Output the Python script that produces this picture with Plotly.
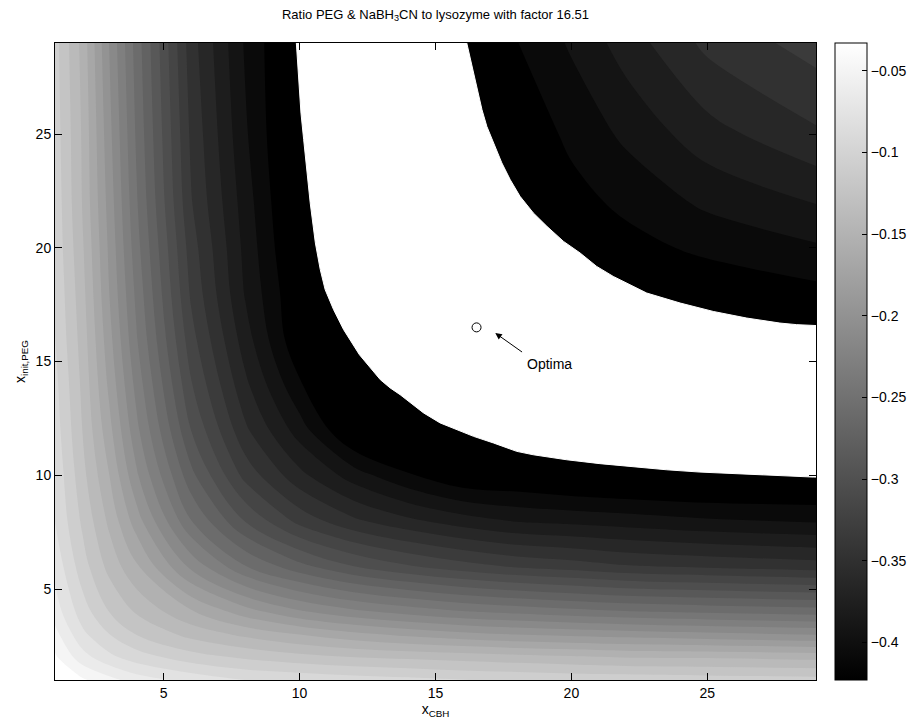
import plotly.graph_objects as go

# ---- data ----
x_cbh = [1, 2, 3, 4, 6, 8, 10, 12, 14, 16, 18, 20, 22, 25, 29]
x_init_peg = [1, 2, 3, 4, 6, 8, 10, 12, 14, 16, 18, 20, 22, 25, 29]

# ratio value on the grid (rows: x_init,PEG ; columns: x_CBH)
ratio = [
    [-0.038, -0.045, -0.057, -0.069, -0.081, -0.091, -0.094, -0.098, -0.101, -0.105, -0.107, -0.109, -0.110, -0.112, -0.114],
    [-0.045, -0.070, -0.087, -0.098, -0.113, -0.122, -0.129, -0.134, -0.137, -0.140, -0.143, -0.146, -0.149, -0.150, -0.153],
    [-0.057, -0.087, -0.105, -0.120, -0.139, -0.152, -0.163, -0.173, -0.181, -0.187, -0.192, -0.195, -0.198, -0.202, -0.207],
    [-0.069, -0.098, -0.120, -0.136, -0.161, -0.185, -0.204, -0.217, -0.226, -0.234, -0.239, -0.244, -0.248, -0.252, -0.256],
    [-0.081, -0.113, -0.139, -0.161, -0.210, -0.249, -0.274, -0.293, -0.306, -0.316, -0.324, -0.329, -0.335, -0.339, -0.344],
    [-0.091, -0.122, -0.152, -0.185, -0.249, -0.294, -0.327, -0.348, -0.362, -0.373, -0.381, -0.384, -0.387, -0.392, -0.396],
    [-0.094, -0.129, -0.163, -0.204, -0.274, -0.327, -0.361, -0.387, -0.407, -0.422, -0.424, -0.429, -0.432, -0.434, -0.432],
    [-0.098, -0.134, -0.173, -0.217, -0.293, -0.348, -0.387, -0.427, -0.430, -0.450, -0.450, -0.450, -0.450, -0.450, -0.450],
    [-0.101, -0.137, -0.181, -0.226, -0.306, -0.362, -0.407, -0.430, -0.450, -0.450, -0.450, -0.450, -0.450, -0.450, -0.450],
    [-0.105, -0.140, -0.187, -0.234, -0.316, -0.373, -0.422, -0.450, -0.450, -0.450, -0.450, -0.450, -0.450, -0.450, -0.440],
    [-0.107, -0.143, -0.192, -0.239, -0.324, -0.381, -0.424, -0.450, -0.450, -0.450, -0.450, -0.450, -0.440, -0.420, -0.413],
    [-0.109, -0.146, -0.195, -0.244, -0.329, -0.384, -0.429, -0.450, -0.450, -0.450, -0.450, -0.430, -0.414, -0.405, -0.396],
    [-0.110, -0.149, -0.198, -0.248, -0.335, -0.387, -0.432, -0.450, -0.450, -0.450, -0.440, -0.414, -0.405, -0.391, -0.379],
    [-0.112, -0.150, -0.202, -0.252, -0.339, -0.392, -0.434, -0.450, -0.450, -0.450, -0.420, -0.405, -0.391, -0.371, -0.353],
    [-0.114, -0.153, -0.207, -0.256, -0.344, -0.396, -0.432, -0.450, -0.450, -0.440, -0.409, -0.392, -0.373, -0.347, -0.330],
]

# boundary of the white (unfilled) region
white_lower_x = [9.88, 9.96, 10.05, 10.15, 10.27, 10.39, 10.58, 10.76, 10.94, 11.25, 11.62, 12.2,
                 12.97, 13.33, 13.70, 14.07, 14.56, 15.17, 15.79, 16.40, 17.13, 17.99, 18.60,
                 19.83, 21.05, 22.28, 23.51, 24.73, 25.96, 27.18, 28.9, 29.0]
white_lower_y = [29.0, 27.39, 25.92, 24.75, 23.29, 21.97, 20.21, 19.04, 18.16, 17.28, 16.40, 15.3,
                 14.2, 13.84, 13.54, 13.18, 12.74, 12.30, 12.0, 11.71, 11.42, 11.05, 10.90,
                 10.68, 10.51, 10.36, 10.24, 10.14, 10.07, 9.99, 9.92, 9.92]
white_upper_x = [29.0, 28.29, 27.67, 26.45, 25.22, 24.0, 22.77, 21.54, 20.93, 20.32, 19.71, 19.1,
                 18.6, 18.11, 17.75, 17.44, 17.13, 16.89, 16.71, 16.52, 16.34, 16.15]
white_upper_y = [16.58, 16.62, 16.69, 16.91, 17.2, 17.57, 18.01, 18.74, 19.18, 19.77, 20.28, 20.94,
                 21.53, 22.26, 22.99, 23.73, 24.6, 25.33, 26.07, 27.09, 28.12, 29.0]

optimum_x = [16.51]
optimum_y = [16.5]

cbar_min, cbar_max = -0.423, -0.033
n_bands = 27
cbar_ticks = [-0.4, -0.35, -0.3, -0.25, -0.2, -0.15, -0.1, -0.05]
cbar_labels = ["\u22120.4", "\u22120.35", "\u22120.3", "\u22120.25", "\u22120.2",
               "\u22120.15", "\u22120.1", "\u22120.05"]
axis_ticks = [5, 10, 15, 20, 25]

# ---- figure ----
step = (cbar_max - cbar_min) / n_bands
FONT = "Liberation Sans, Arial, Helvetica, sans-serif"
GRAY = [[0, "black"], [1, "white"]]

fig = go.Figure()
fig.add_trace(go.Contour(
    x=x_cbh, y=x_init_peg, z=ratio,
    colorscale=GRAY,
    zmin=cbar_min, zmax=cbar_max,
    autocontour=False,
    contours=dict(start=cbar_min + step, end=cbar_max - step, size=step,
                  coloring="fill", showlines=False),
    line=dict(width=0, smoothing=1),
    hoverinfo="skip",
    showscale=False,
))

# colour scale legend (continuous gray map, as in the reference colour bar)
fig.add_trace(go.Heatmap(
    x=[-20, -19], y=[-20, -19], z=[[cbar_min, cbar_max], [cbar_min, cbar_max]],
    colorscale=GRAY, zmin=cbar_min, zmax=cbar_max, hoverinfo="skip",
    colorbar=dict(
        thickness=32, thicknessmode="pixels",
        len=1, lenmode="fraction",
        x=1.025, xanchor="left", xpad=0,
        y=0.5, yanchor="middle", ypad=0,
        outlinewidth=1, outlinecolor="black",
        tickmode="array", tickvals=cbar_ticks, ticktext=cbar_labels,
        ticks="inside", ticklen=5, tickcolor="black",
        tickfont=dict(family=FONT, size=14, color="black"),
    ),
))

fig.add_trace(go.Scatter(
    x=white_lower_x + white_upper_x, y=white_lower_y + white_upper_y,
    mode="lines", fill="toself", fillcolor="white",
    line=dict(color="white", width=1), hoverinfo="skip", showlegend=False,
))

fig.add_trace(go.Scatter(
    x=optimum_x, y=optimum_y, mode="markers",
    marker=dict(symbol="circle-open", size=9, color="black", line=dict(width=1, color="black")),
    hoverinfo="skip", showlegend=False,
))

fig.add_annotation(x=17.2, y=16.25, ax=18.24, ay=15.37, xref="x", yref="y",
                   axref="x", ayref="y", text="", showarrow=True,
                   arrowhead=2, arrowsize=1.3, arrowwidth=1, arrowcolor="black")
fig.add_annotation(x=18.3, y=14.9, xref="x", yref="y", text="Optima", showarrow=False,
                   xanchor="left", yanchor="middle",
                   font=dict(family=FONT, size=14, color="black"))

axis_common = dict(
    range=[1, 29], tickmode="array", tickvals=axis_ticks,
    ticks="inside", ticklen=7, tickcolor="black", tickwidth=1,
    showline=True, linecolor="black", linewidth=1, mirror="ticks",
    showgrid=False, zeroline=False,
    tickfont=dict(family=FONT, size=14, color="black"),
)

fig.update_layout(
    width=910, height=727,
    margin=dict(l=55, r=94, t=43, b=47, autoexpand=False),
    paper_bgcolor="white", plot_bgcolor="white",
    showlegend=False,
    font=dict(family=FONT, size=14, color="black"),
    title=dict(text="Ratio PEG & NaBH<sub>3</sub>CN to lysozyme with factor 16.51",
               x=0.5, xref="paper", xanchor="center",
               y=1 - 14 / 727, yref="container", yanchor="middle",
               font=dict(family=FONT, size=13, color="black")),
    xaxis=dict(axis_common, title=dict(text="x<sub>CBH</sub>", standoff=2,
                                       font=dict(family=FONT, size=14))),
    yaxis=dict(axis_common, title=dict(text="x<sub>init,PEG</sub>", standoff=6,
                                       font=dict(family=FONT, size=14))),
)

fig.write_html("out.html")
